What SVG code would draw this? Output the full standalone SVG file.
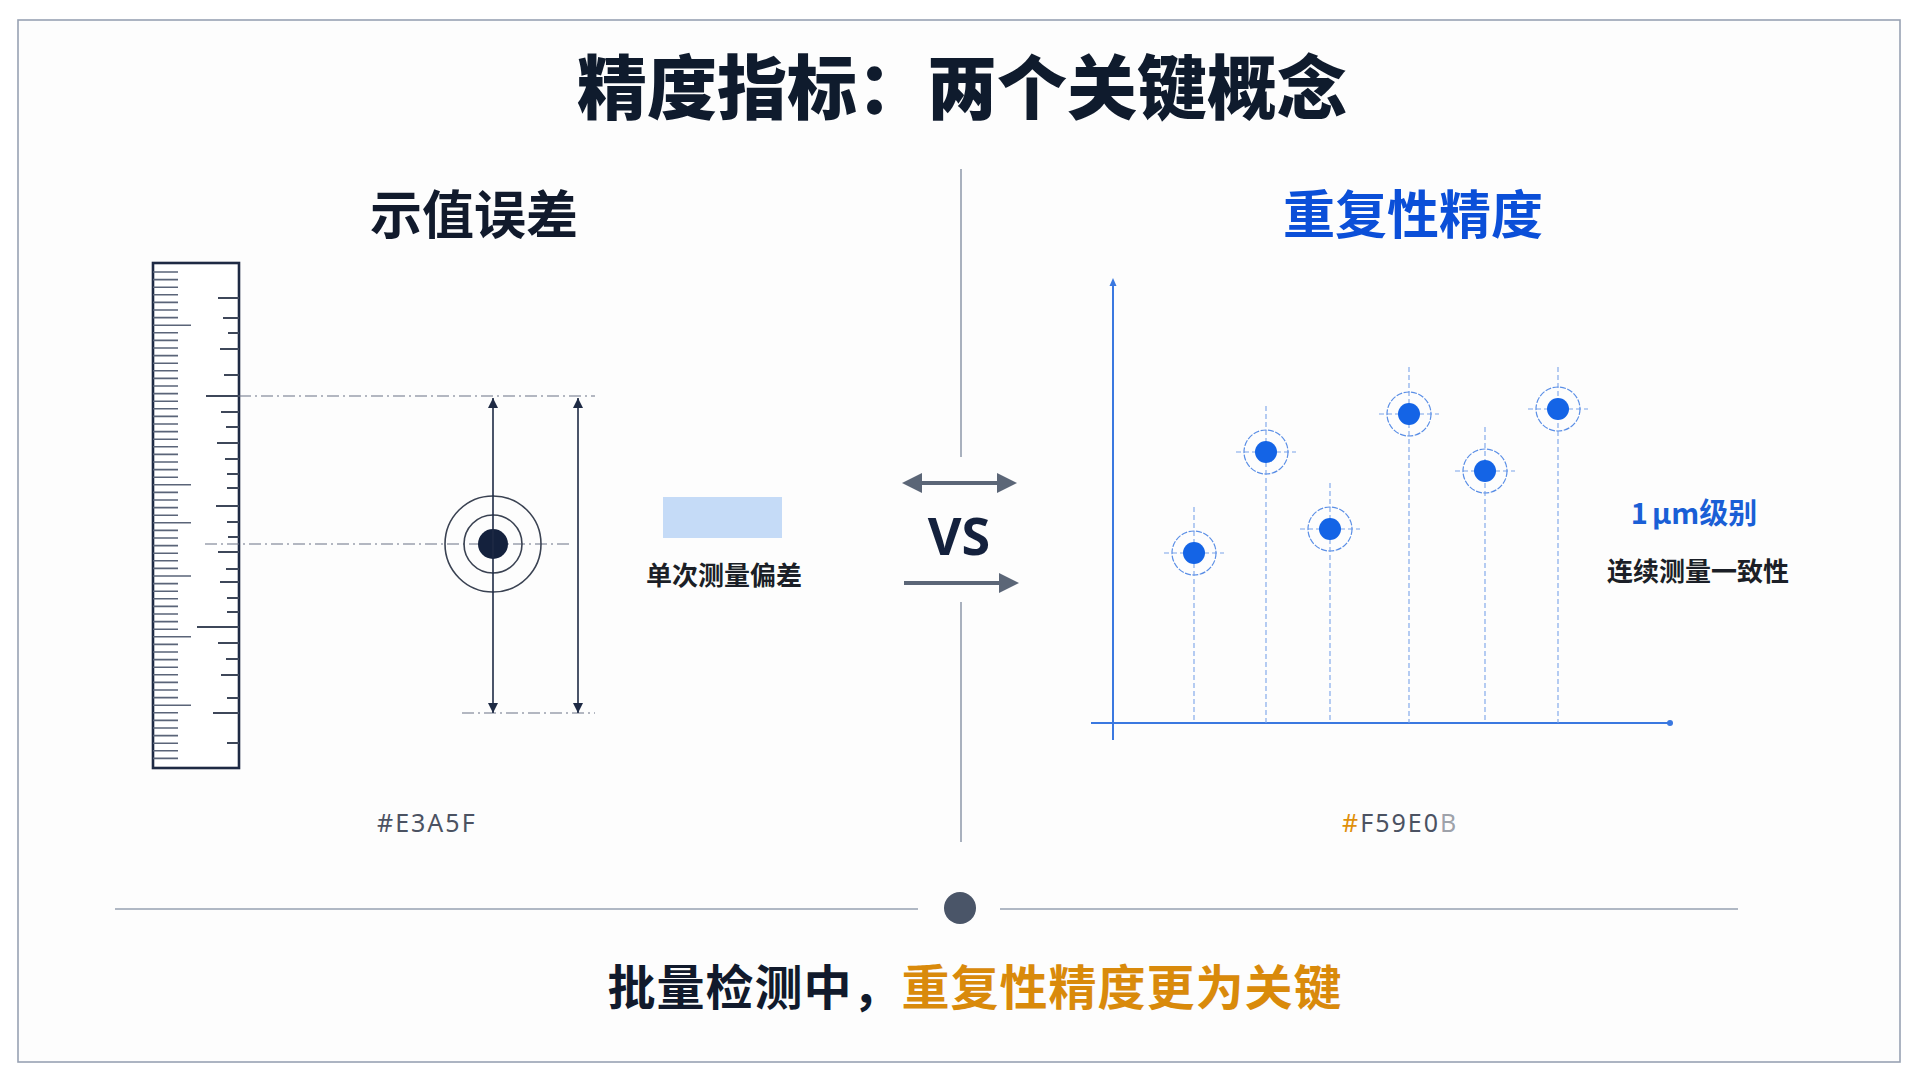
<svg xmlns="http://www.w3.org/2000/svg" width="1920" height="1080" viewBox="0 0 1920 1080">
  <style>
    .cjk { font-family: "Noto Sans CJK SC", "Noto Sans", sans-serif; }
    .title { font-size: 70px; font-weight: 900; fill: #0f1b2d; }
    .sub { font-size: 52px; font-weight: 700; }
    .lbl { font-size: 26px; font-weight: 600; fill: #1b1f27; }
    .hex { font-family: "Noto Sans", "Liberation Sans", sans-serif; font-size: 25px; font-weight: 400; fill: #4b5262; letter-spacing: 2px; }
    .tick { stroke: #5a6478; stroke-width: 1.6; fill: none; }
    .tickR { stroke: #3e4759; stroke-width: 1.8; fill: none; }
    .dash { stroke: #6b7385; stroke-width: 1.2; stroke-dasharray: 12 4 2 4; fill: none; }
    .navy { stroke: #1e2a44; stroke-width: 1.6; fill: none; }
    .ring { stroke: #3a4252; stroke-width: 1.6; fill: none; }
    .axis { stroke: #3a78e0; stroke-width: 2; fill: none; }
    .guide { stroke: #7aa4ea; stroke-width: 1.1; stroke-dasharray: 5 3; fill: none; }
    .pring { stroke: #5b8fe6; stroke-width: 1.2; stroke-dasharray: 6 1.5; fill: none; }
    .pdot { fill: #1464e6; }
    .vsarrow { stroke: #5b6677; stroke-width: 4; fill: none; }
  </style>
  <defs>
    <marker id="ah" viewBox="0 0 10 10" refX="10" refY="5" markerWidth="10" markerHeight="12" markerUnits="userSpaceOnUse" orient="auto-start-reverse">
      <path d="M0 0 L10 5 L0 10 Z" fill="#1e2a44"/>
    </marker>
    <marker id="vh" viewBox="0 0 10 10" refX="8" refY="5" markerWidth="20" markerHeight="20" markerUnits="userSpaceOnUse" orient="auto-start-reverse">
      <path d="M0 0 L10 5 L0 10 Z" fill="#5b6677"/>
    </marker>
  </defs>

  <rect x="0" y="0" width="1920" height="1080" fill="#ffffff"/>
  <rect id="frame" x="18" y="20" width="1882" height="1042" fill="#fdfdfd" stroke="#98a2b3" stroke-width="1.6"/>

  <g id="title">
    <text class="cjk title" x="962" y="114" text-anchor="middle">精度指标：两个关键概念</text>
  </g>

  <g id="divider">
    <line x1="961" y1="169" x2="961" y2="457" stroke="#8d97a8" stroke-width="1.5"/>
    <line x1="961" y1="602" x2="961" y2="842" stroke="#8d97a8" stroke-width="1.5"/>
  </g>

  <g id="left-heading">
    <text class="cjk sub" x="474" y="234" text-anchor="middle" fill="#111a2c">示值误差</text>
  </g>

  <g id="ruler">
    <rect x="153" y="263" width="86" height="505" fill="#ffffff" stroke="#1e2a44" stroke-width="2.6"/>
    <path class="tick" d="M153 272h25M153 279.6h25M153 287.2h25M153 294.8h25M153 302.4h25M153 310h25M153 317.6h25M153 325.2h38M153 332.8h25M153 340.4h25M153 348h25M153 355.6h25M153 363.2h25M153 370.8h25M153 378.4h25M153 386h25M153 393.6h25M153 401.2h25M153 408.8h25M153 416.4h25M153 424h25M153 431.6h25M153 439.2h25M153 446.8h25M153 454.4h25M153 462h25M153 469.6h25M153 477.2h25M153 484.8h38M153 492.4h25M153 500h25M153 507.6h25M153 515.2h25M153 522.8h38M153 530.4h25M153 538h25M153 545.6h25M153 553.2h25M153 560.8h25M153 568.4h25M153 576h38M153 583.6h25M153 591.2h25M153 598.8h25M153 606.4h25M153 614h25M153 621.6h25M153 629.2h25M153 636.8h38M153 644.4h25M153 652h25M153 659.6h25M153 667.2h25M153 674.8h25M153 682.4h25M153 690h25M153 697.6h25M153 705.2h38M153 712.8h25M153 720.4h25M153 728h25M153 735.6h25M153 743.2h25M153 750.8h25M153 758.4h25"/>
    <path class="tickR" d="M218 298H239M223 318H239M228 333H239M220 349H239M224 375H239M206 396H239M221 412H239M226 427H239M217 443H239M225 459H239M227 474H239M227 488H239M216 506H239M227 522H239M228 537H239M218 552H239M226 569H239M220 582H239M227 598H239M227 612H239M197 627H239M218 643H239M226 659H239M221 675H239M227 698H239M213 713H239M227 743H239"/>
  </g>

  <g id="measure-guides">
    <line class="dash" x1="239" y1="396" x2="595" y2="396"/>
    <line class="dash" x1="205" y1="544" x2="570" y2="544"/>
    <line class="dash" x1="462" y1="713" x2="595" y2="713"/>
  </g>

  <g id="target">
    <circle class="ring" cx="493" cy="544" r="48"/>
    <circle class="ring" cx="493" cy="544" r="29"/>
    <circle cx="493" cy="544" r="15" fill="#14213d"/>
  </g>

  <g id="connectors">
    <line class="navy" x1="493" y1="398" x2="493" y2="713" marker-start="url(#ah)" marker-end="url(#ah)"/>
    <line class="navy" x1="578" y1="398" x2="578" y2="713" marker-start="url(#ah)" marker-end="url(#ah)"/>
    <line class="vsarrow" x1="906" y1="483" x2="1013" y2="483" marker-start="url(#vh)" marker-end="url(#vh)"/>
    <line class="vsarrow" x1="904" y1="583" x2="1015" y2="583" marker-end="url(#vh)"/>
  </g>

  <g id="single-deviation">
    <rect x="663" y="497" width="119" height="41" fill="#c5dbf7"/>
    <text class="cjk lbl" x="724" y="585" text-anchor="middle">单次测量偏差</text>
  </g>

  <g id="vs">
    <text x="959" y="555" text-anchor="middle" font-family="'Noto Sans', 'Liberation Sans', sans-serif" font-size="52" font-weight="700" fill="#14213d">VS</text>
  </g>

  <g id="right-heading">
    <text class="cjk sub" x="1413" y="234" text-anchor="middle" fill="#0b4fd8">重复性精度</text>
  </g>

  <g id="chart">
    <line class="axis" x1="1113" y1="284" x2="1113" y2="740"/>
    <path d="M1113 278 L1116.5 286 L1109.5 286 Z" fill="#3a78e0"/>
    <line class="axis" x1="1091" y1="723" x2="1670" y2="723"/>
    <circle cx="1670" cy="723" r="3" fill="#3a78e0"/>

    <g id="point1">
      <line class="guide" x1="1194" y1="507" x2="1194" y2="723"/>
      <line class="guide" x1="1164" y1="553" x2="1224" y2="553"/>
      <circle class="pring" cx="1194" cy="553" r="22"/>
      <circle class="pdot" cx="1194" cy="553" r="11"/>
    </g>
    <g id="point2">
      <line class="guide" x1="1266" y1="406" x2="1266" y2="723"/>
      <line class="guide" x1="1236" y1="452" x2="1296" y2="452"/>
      <circle class="pring" cx="1266" cy="452" r="22"/>
      <circle class="pdot" cx="1266" cy="452" r="11"/>
    </g>
    <g id="point3">
      <line class="guide" x1="1330" y1="483" x2="1330" y2="723"/>
      <line class="guide" x1="1300" y1="529" x2="1360" y2="529"/>
      <circle class="pring" cx="1330" cy="529" r="22"/>
      <circle class="pdot" cx="1330" cy="529" r="11"/>
    </g>
    <g id="point4">
      <line class="guide" x1="1409" y1="367" x2="1409" y2="723"/>
      <line class="guide" x1="1379" y1="414" x2="1439" y2="414"/>
      <circle class="pring" cx="1409" cy="414" r="22"/>
      <circle class="pdot" cx="1409" cy="414" r="11"/>
    </g>
    <g id="point5">
      <line class="guide" x1="1485" y1="427" x2="1485" y2="723"/>
      <line class="guide" x1="1455" y1="471" x2="1515" y2="471"/>
      <circle class="pring" cx="1485" cy="471" r="22"/>
      <circle class="pdot" cx="1485" cy="471" r="11"/>
    </g>
    <g id="point6">
      <line class="guide" x1="1558" y1="367" x2="1558" y2="723"/>
      <line class="guide" x1="1528" y1="409" x2="1588" y2="409"/>
      <circle class="pring" cx="1558" cy="409" r="22"/>
      <circle class="pdot" cx="1558" cy="409" r="11"/>
    </g>
  </g>

  <g id="repeat-labels">
    <text class="cjk" x="1694" y="524" text-anchor="middle" font-size="29" font-weight="600" fill="#1a5fd6">1<tspan dx="4">μm级别</tspan></text>
    <text class="cjk lbl" x="1698" y="581" text-anchor="middle">连续测量一致性</text>
  </g>

  <g id="hex-labels">
    <text class="hex" x="377" y="832">#E3A5F</text>
    <text class="hex" x="1342" y="832" letter-spacing="1"><tspan fill="#e0900a">#</tspan>F59E0<tspan fill-opacity="0.55">B</tspan></text>
  </g>

  <g id="separator">
    <line x1="115" y1="909" x2="918" y2="909" stroke="#b0b8c4" stroke-width="2"/>
    <line x1="1000" y1="909" x2="1738" y2="909" stroke="#b0b8c4" stroke-width="2"/>
    <circle cx="960" cy="908" r="16" fill="#4a5568"/>
  </g>

  <g id="conclusion">
    <text class="cjk" x="975" y="1005" text-anchor="middle" font-size="48" font-weight="700" letter-spacing="1"><tspan fill="#111a2c">批量检测中，</tspan><tspan fill="#d98a0b">重复性精度更为关键</tspan></text>
  </g>
</svg>
